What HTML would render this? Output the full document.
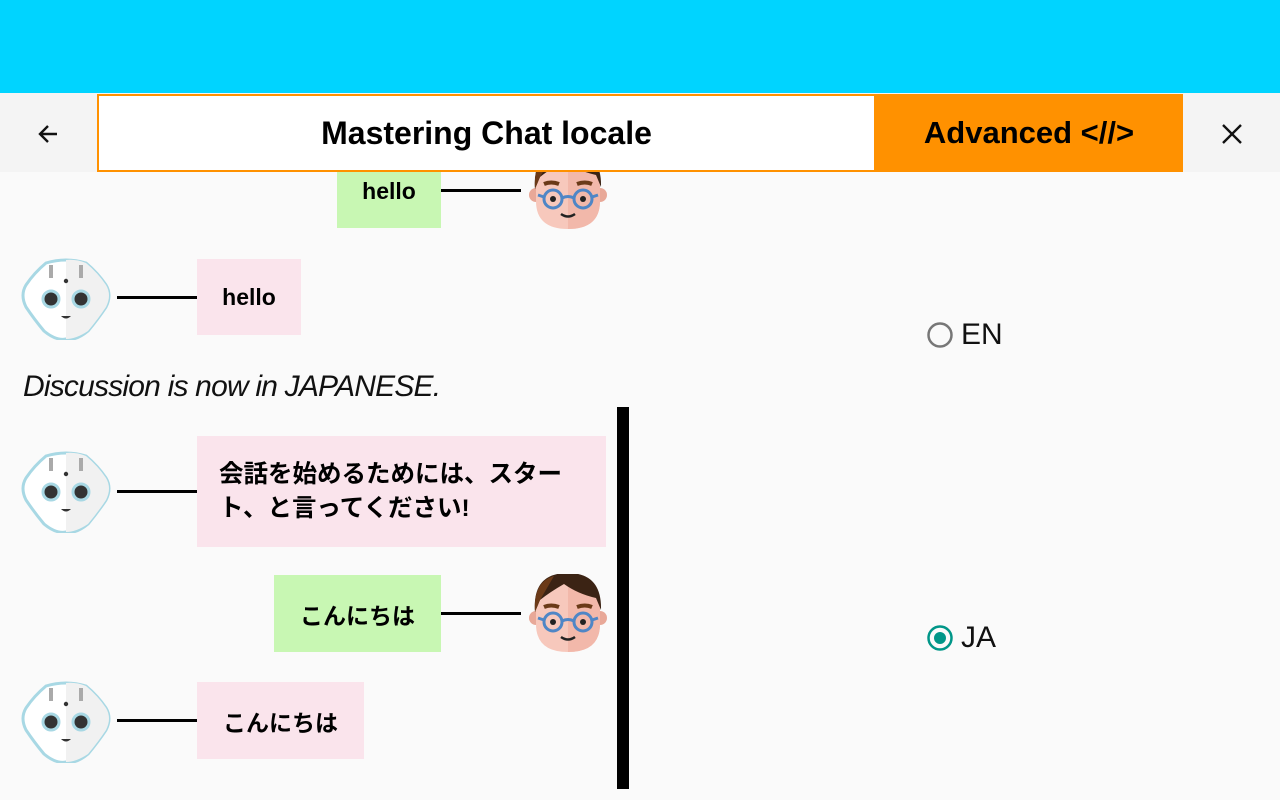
<!DOCTYPE html>
<html><head><meta charset="utf-8"><style>
*{margin:0;padding:0;box-sizing:border-box}
body{width:1280px;height:800px;overflow:hidden;background:#fafafa;position:relative;font-family:"Liberation Sans","Noto Sans CJK JP",sans-serif}
.a{position:absolute}
.top{left:0;top:0;width:1280px;height:93px;background:#00d4ff}
.bar{left:0;top:93px;width:1280px;height:79px;background:#f4f4f4}
.title{left:97px;top:94px;width:779px;height:78px;background:#fff;border:2px solid #ff9100;font-weight:bold;font-size:32px;text-align:center;line-height:74px;color:#000}
.adv{left:875px;top:94px;width:308px;height:78px;background:#ff9100;font-weight:bold;font-size:31px;text-align:center;line-height:78px;color:#000}
.box{font-weight:bold;font-size:23px;color:#000;display:flex;align-items:center}
.pink{background:#fae4ec}.green{background:#c8f7b3}
.ln{height:3px;background:#000}
.clip{left:0;top:172px;width:1280px;height:628px;overflow:hidden}
</style></head><body>
<div class="a top"></div>
<div class="a bar"></div>
<svg class="a" style="left:36px;top:121px" width="26" height="26" viewBox="0 0 26 26"><path d="M21 13H5M12 5L4 13L12 21" stroke="#111" stroke-width="2.4" fill="none"/></svg>
<div class="a title">Mastering Chat locale</div>
<div class="a adv">Advanced &lt;//&gt;</div>
<svg class="a" style="left:1221px;top:123px" width="22" height="22"><path d="M2 2L20 20M20 2L2 20" stroke="#111" stroke-width="2.4"/></svg>

<div class="a clip">
 <div class="a box green" style="left:337px;top:-28px;width:104px;height:84px;justify-content:center;padding-top:10px">hello</div>
 <div class="a ln" style="left:441px;top:17px;width:80px"></div>
 <svg class="a" style="left:528px;top:-21px" width="80" height="80" viewBox="0 0 80 80">
  <circle cx="8" cy="44" r="7" fill="#e8a898"/><circle cx="72" cy="44" r="7" fill="#e8a898"/>
  <path d="M8 30 Q8 0 40 0 Q72 0 72 30 L72 50 Q72 78 40 78 Q8 78 8 50Z" fill="#f7c8bc"/>
  <path d="M40 0 Q72 0 72 30 L72 50 Q72 78 40 78Z" fill="#f2b8aa"/>
  <path d="M7 38 Q4 0 38 -1 Q74 -2 73 36 L68 24 Q50 20 36 10 Q22 18 12 26Z" fill="#3b2314"/>
  <path d="M7 38 Q5 8 26 2 L12 26Z" fill="#6b3a18"/>
  <path d="M16 33 Q23 30 31 33 M49 33 Q57 30 64 33" stroke="#6b3a18" stroke-width="4" fill="none"/>
  <circle cx="25" cy="48" r="9" stroke="#4f86c6" stroke-width="3" fill="none"/><circle cx="55" cy="48" r="9" stroke="#4f86c6" stroke-width="3" fill="none"/>
  <path d="M34 47 Q40 44 46 47 M16 46 L10 44 M64 46 L70 44" stroke="#4f86c6" stroke-width="3" fill="none"/>
  <circle cx="25" cy="48" r="3" fill="#222"/><circle cx="55" cy="48" r="3" fill="#222"/>
  <path d="M33 63 Q40 68 47 63" stroke="#222" stroke-width="2.5" fill="none"/></svg>

 <svg class="a" style="left:21px;top:86px" width="90" height="82" viewBox="-3 -1 90 82">
  <path d="M22 4 Q42 -2 62 4 Q74 14 82 26 Q88 36 82 48 Q74 60 64 72 Q52 82 42 80 Q32 82 20 72 Q10 60 2 48 Q-4 36 2 26 Q10 14 22 4Z" fill="#fff" stroke="#a8d8e4" stroke-width="3"/>
  <path d="M42 1 Q52 0 62 4 Q74 14 82 26 Q88 36 82 48 Q74 60 64 72 Q52 80 42 80Z" fill="#f1f1f1"/>
  <rect x="25" y="6" width="4" height="13" fill="#aaa"/><rect x="55" y="6" width="4" height="13" fill="#aaa"/>
  <circle cx="42" cy="22" r="2.2" fill="#333"/>
  <circle cx="27" cy="40" r="8" fill="#333" stroke="#a8d8e4" stroke-width="3"/><circle cx="57" cy="40" r="8" fill="#333" stroke="#a8d8e4" stroke-width="3"/>
  <path d="M37 57 L47 57 Q42 62 37 57Z" fill="#333"/></svg>
 <div class="a ln" style="left:117px;top:124px;width:80px"></div>
 <div class="a box pink" style="left:197px;top:87px;width:104px;height:76px;justify-content:center">hello</div>

 <div class="a" style="left:23px;top:198px;font-size:30px;font-style:italic;color:#111;letter-spacing:-0.8px">Discussion is now in JAPANESE.</div>
 <div class="a" style="left:617px;top:235px;width:12px;height:382px;background:#000"></div>

 <svg class="a" style="left:21px;top:279px" width="90" height="82" viewBox="-3 -1 90 82">
  <path d="M22 4 Q42 -2 62 4 Q74 14 82 26 Q88 36 82 48 Q74 60 64 72 Q52 82 42 80 Q32 82 20 72 Q10 60 2 48 Q-4 36 2 26 Q10 14 22 4Z" fill="#fff" stroke="#a8d8e4" stroke-width="3"/>
  <path d="M42 1 Q52 0 62 4 Q74 14 82 26 Q88 36 82 48 Q74 60 64 72 Q52 80 42 80Z" fill="#f1f1f1"/>
  <rect x="25" y="6" width="4" height="13" fill="#aaa"/><rect x="55" y="6" width="4" height="13" fill="#aaa"/>
  <circle cx="42" cy="22" r="2.2" fill="#333"/>
  <circle cx="27" cy="40" r="8" fill="#333" stroke="#a8d8e4" stroke-width="3"/><circle cx="57" cy="40" r="8" fill="#333" stroke="#a8d8e4" stroke-width="3"/>
  <path d="M37 57 L47 57 Q42 62 37 57Z" fill="#333"/></svg>
 <div class="a ln" style="left:117px;top:318px;width:80px"></div>
 <div class="a box pink" style="left:197px;top:264px;width:409px;height:111px;padding-left:22px;line-height:34px;font-size:24.5px">会話を始めるためには、スター<br>ト、と言ってください!</div>

 <div class="a box green" style="left:274px;top:403px;width:167px;height:77px;justify-content:center">こんにちは</div>
 <div class="a ln" style="left:441px;top:440px;width:80px"></div>
 <svg class="a" style="left:528px;top:402px" width="80" height="80" viewBox="0 0 80 80">
  <circle cx="8" cy="44" r="7" fill="#e8a898"/><circle cx="72" cy="44" r="7" fill="#e8a898"/>
  <path d="M8 30 Q8 0 40 0 Q72 0 72 30 L72 50 Q72 78 40 78 Q8 78 8 50Z" fill="#f7c8bc"/>
  <path d="M40 0 Q72 0 72 30 L72 50 Q72 78 40 78Z" fill="#f2b8aa"/>
  <path d="M7 38 Q4 0 38 -1 Q74 -2 73 36 L68 24 Q50 20 36 10 Q22 18 12 26Z" fill="#3b2314"/>
  <path d="M7 38 Q5 8 26 2 L12 26Z" fill="#6b3a18"/>
  <path d="M16 33 Q23 30 31 33 M49 33 Q57 30 64 33" stroke="#6b3a18" stroke-width="4" fill="none"/>
  <circle cx="25" cy="48" r="9" stroke="#4f86c6" stroke-width="3" fill="none"/><circle cx="55" cy="48" r="9" stroke="#4f86c6" stroke-width="3" fill="none"/>
  <path d="M34 47 Q40 44 46 47 M16 46 L10 44 M64 46 L70 44" stroke="#4f86c6" stroke-width="3" fill="none"/>
  <circle cx="25" cy="48" r="3" fill="#222"/><circle cx="55" cy="48" r="3" fill="#222"/>
  <path d="M33 63 Q40 68 47 63" stroke="#222" stroke-width="2.5" fill="none"/></svg>

 <svg class="a" style="left:21px;top:509px" width="90" height="82" viewBox="-3 -1 90 82">
  <path d="M22 4 Q42 -2 62 4 Q74 14 82 26 Q88 36 82 48 Q74 60 64 72 Q52 82 42 80 Q32 82 20 72 Q10 60 2 48 Q-4 36 2 26 Q10 14 22 4Z" fill="#fff" stroke="#a8d8e4" stroke-width="3"/>
  <path d="M42 1 Q52 0 62 4 Q74 14 82 26 Q88 36 82 48 Q74 60 64 72 Q52 80 42 80Z" fill="#f1f1f1"/>
  <rect x="25" y="6" width="4" height="13" fill="#aaa"/><rect x="55" y="6" width="4" height="13" fill="#aaa"/>
  <circle cx="42" cy="22" r="2.2" fill="#333"/>
  <circle cx="27" cy="40" r="8" fill="#333" stroke="#a8d8e4" stroke-width="3"/><circle cx="57" cy="40" r="8" fill="#333" stroke="#a8d8e4" stroke-width="3"/>
  <path d="M37 57 L47 57 Q42 62 37 57Z" fill="#333"/></svg>
 <div class="a ln" style="left:117px;top:547px;width:80px"></div>
 <div class="a box pink" style="left:197px;top:510px;width:167px;height:77px;justify-content:center">こんにちは</div>
</div>

<svg class="a" style="left:926px;top:321px" width="28" height="28"><circle cx="14" cy="14" r="11.5" stroke="#777" stroke-width="2.5" fill="none"/></svg>
<div class="a" style="left:961px;top:318px;font-size:30px;color:#111">EN</div>
<svg class="a" style="left:926px;top:624px" width="28" height="28"><circle cx="14" cy="14" r="11.5" stroke="#009688" stroke-width="2.5" fill="none"/><circle cx="14" cy="14" r="6" fill="#009688"/></svg>
<div class="a" style="left:961px;top:621px;font-size:30px;color:#111">JA</div>
</body></html>
